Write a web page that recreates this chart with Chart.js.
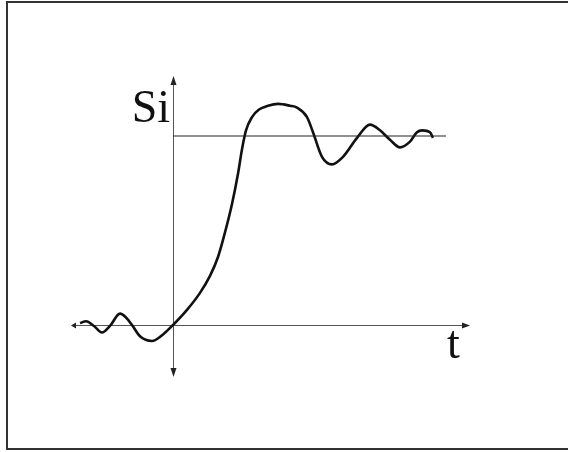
<!DOCTYPE html>
<html>
<head>
<meta charset="utf-8">
<script src="https://cdn.jsdelivr.net/npm/chart.js@4"></script>
<style>
  html, body { margin: 0; padding: 0; background: #fff; }
  #wrap { width: 568px; height: 452px; position: relative; }
</style>
</head>
<body>
<div id="wrap"><canvas id="si_plot"></canvas></div>
<script>
// curve: t along x, Si along y (level 1 = steady state)
var tValues = [-4.65, -4.35, -3.95, -3.55, -3.15, -2.65, -2.35, -2.05, -1.65, -1.05, -0.5, 0,
  0.7, 1.35, 1.85, 2.25, 2.6, 2.95, 3.25, 3.45, 3.65, 3.95, 4.3, 4.75, 5.25, 5.85, 6.2, 6.7,
  7.0, 7.45, 7.95, 8.5, 9.2, 9.85, 10.35, 10.85, 11.35, 11.85, 12.2, 12.45, 12.85, 13.0];
var siValues = [0.01, 0.02, -0.005, -0.04, -0.005, 0.06, 0.04, 0, -0.06, -0.085, -0.05, 0,
  0.08, 0.17, 0.26, 0.36, 0.49, 0.64, 0.8, 0.93, 1.03, 1.1, 1.14, 1.16, 1.17, 1.16, 1.15, 1.1,
  1.02, 0.89, 0.85, 0.89, 0.99, 1.06, 1.03, 0.98, 0.94, 0.97, 1.02, 1.03, 1.02, 0.99];

// steady-state level line
var levelT = [0, 13.65];
var levelSi = [1, 1];

// axis extents
var tAxis = [-5.05, 14.75];
var siAxis = [-0.265, 1.307];

var axisLabels = ["t", "Si"];

function pts(xs, ys) {
  return xs.map(function (x, i) { return { x: x, y: ys[i] }; });
}

var axesPlugin = {
  id: "axes",
  beforeDatasetsDraw: function (chart) {
    var ctx = chart.ctx, sx = chart.scales.x, sy = chart.scales.y;
    var x0 = sx.getPixelForValue(0), y0 = sy.getPixelForValue(0);
    var xl = sx.getPixelForValue(tAxis[0]), xr = sx.getPixelForValue(tAxis[1]);
    var yb = sy.getPixelForValue(siAxis[0]), yt = sy.getPixelForValue(siAxis[1]);
    ctx.save();
    // frame
    ctx.strokeStyle = "#333";
    ctx.lineWidth = 2;
    ctx.beginPath();
    ctx.moveTo(572, 2);
    ctx.lineTo(7, 2);
    ctx.lineTo(7, 449);
    ctx.lineTo(572, 449);
    ctx.stroke();
    // axes
    ctx.strokeStyle = "#555";
    ctx.lineWidth = 1;
    ctx.beginPath();
    ctx.moveTo(xl, Math.round(y0) + 0.5);
    ctx.lineTo(xr, Math.round(y0) + 0.5);
    ctx.moveTo(Math.round(x0) + 0.5, yb);
    ctx.lineTo(Math.round(x0) + 0.5, yt);
    ctx.stroke();
    // arrow heads
    ctx.fillStyle = "#222";
    function tri(ax, ay, bx, by, cx, cy) {
      ctx.beginPath(); ctx.moveTo(ax, ay); ctx.lineTo(bx, by); ctx.lineTo(cx, cy); ctx.closePath(); ctx.fill();
    }
    var xc = Math.round(x0) + 0.5, yc = Math.round(y0) + 0.5;
    tri(xc, yt - 2, xc - 3, yt + 7, xc + 3, yt + 7);
    tri(xc, yb + 2, xc - 3, yb - 7, xc + 3, yb - 7);
    tri(xr + 2, yc, xr - 6, yc - 3, xr - 6, yc + 3);
    tri(xl - 1, yc, xl + 4, yc - 3, xl + 4, yc + 3);
    // labels
    ctx.fillStyle = "#111";
    ctx.font = "46px \"Liberation Serif\", \"DejaVu Serif\", serif";
    ctx.textBaseline = "alphabetic";
    ctx.textAlign = "left";
    ctx.fillText(axisLabels[0], sx.getPixelForValue(13.7), 358);
    ctx.textAlign = "right";
    ctx.fillText(axisLabels[1], x0 - 3, 122);
    ctx.restore();
  }
};

new Chart(document.getElementById("si_plot"), {
  type: "scatter",
  data: {
    datasets: [
      {
        data: pts(levelT, levelSi),
        showLine: true,
        borderColor: "#222",
        borderWidth: 1.2,
        pointRadius: 0,
        tension: 0
      },
      {
        data: pts(tValues, siValues),
        showLine: true,
        borderColor: "#111",
        borderWidth: 2.6,
        pointRadius: 0,
        cubicInterpolationMode: "monotone"
      }
    ]
  },
  options: {
    responsive: true,
    maintainAspectRatio: false,
    animation: false,
    layout: { padding: 0 },
    plugins: { legend: { display: false }, tooltip: { enabled: false } },
    scales: {
      x: { type: "linear", min: -8.65, max: 19.75, display: false },
      y: { type: "linear", min: -0.672, max: 1.7196, display: false }
    }
  },
  plugins: [axesPlugin]
});
</script>
</body>
</html>
